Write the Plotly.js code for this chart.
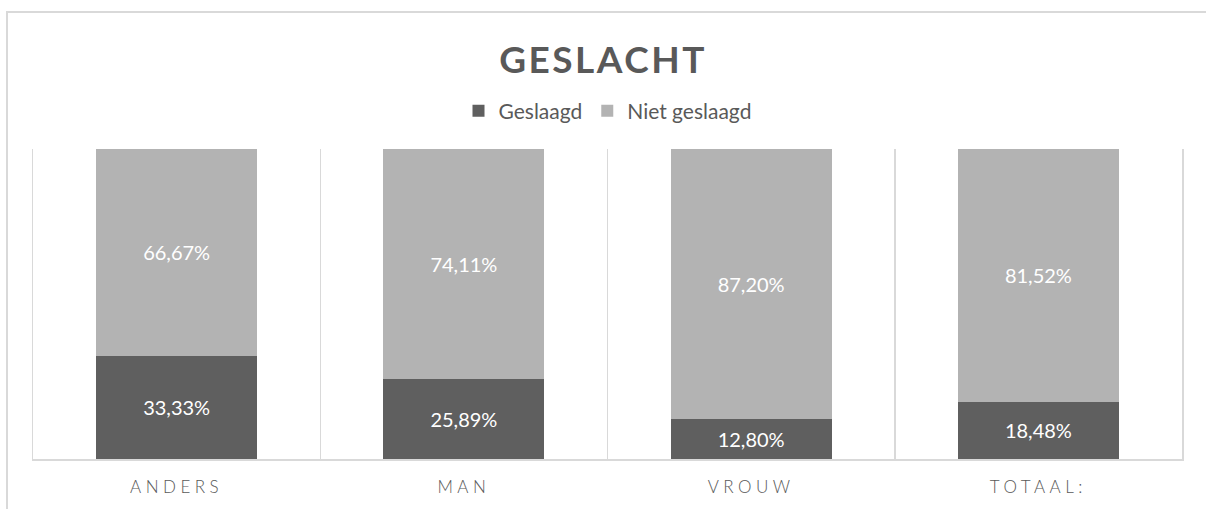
<!DOCTYPE html>
<html>
<head>
<meta charset="utf-8">
<script src="https://cdn.plot.ly/plotly-3.0.1.min.js"></script>
<style>
  html, body { margin: 0; padding: 0; background: #ffffff; }
  #wrap { position: relative; width: 1206px; height: 509px; overflow: hidden; }
  #chart { position: absolute; left: 0; top: 0; width: 1206px; height: 509px; }
  #frame { position: absolute; left: 6px; top: 11px; width: 1300px; height: 700px;
           border-left: 2px solid #d9d9d9; border-top: 2px solid #d9d9d9; pointer-events: none; }
  .gtitle { letter-spacing: 2.5px; }
  .xtick text { letter-spacing: 4.5px; }
</style>
</head>
<body>
<div id="wrap">
  <div id="chart"></div>
  <div id="frame"></div>
</div>
<script>
const categories = ["ANDERS", "MAN", "VROUW", "TOTAAL:"];
const geslaagd = [0.3333, 0.2589, 0.1280, 0.1848];
const nietGeslaagd = [0.6667, 0.7411, 0.8720, 0.8152];
const seriesNames = ["Geslaagd", "Niet geslaagd"];
const chartTitle = "GESLACHT";

const fontFam = "Lato, 'Open Sans', sans-serif";

const traces = [
  {
    type: "bar", name: seriesNames[0], x: categories, y: geslaagd,
    marker: { color: "#5f5f5f" },
    texttemplate: "%{y:.2%}", textposition: "inside", insidetextanchor: "middle",
    textfont: { family: fontFam, size: 20, color: "#ffffff" },
    hoverinfo: "skip"
  },
  {
    type: "bar", name: seriesNames[1], x: categories, y: nietGeslaagd,
    marker: { color: "#b3b3b3" },
    texttemplate: "%{y:.2%}", textposition: "inside", insidetextanchor: "middle",
    textfont: { family: fontFam, size: 20, color: "#ffffff" },
    hoverinfo: "skip"
  }
];

const layout = {
  width: 1206, height: 509,
  margin: { l: 33, r: 24, t: 149, b: 50 },
  paper_bgcolor: "rgba(0,0,0,0)", plot_bgcolor: "rgba(0,0,0,0)",
  separators: ",.",
  barmode: "stack",
  bargap: 0.44,
  showlegend: true,
  title: {
    text: "<b>" + chartTitle + "</b>",
    x: 0.5, xanchor: "center", y: 1 - 60 / 509, yanchor: "middle",
    font: { family: fontFam, size: 37, color: "#595959" }
  },
  legend: {
    orientation: "h", x: 0.5, xanchor: "center", y: 1 + 38 / 310, yanchor: "middle",
    traceorder: "normal",
    font: { family: fontFam, size: 21, color: "#595959" },
    itemclick: false, itemdoubleclick: false
  },
  xaxis: {
    type: "category",
    tickson: "boundaries",
    showgrid: true, gridcolor: "#d9d9d9", gridwidth: 1.5,
    showline: true, linecolor: "#d9d9d9", linewidth: 1.5,
    ticks: "", ticklabelstandoff: 12,
    tickfont: { family: fontFam, size: 17, weight: 300, color: "#595959" },
    fixedrange: true
  },
  yaxis: {
    range: [0, 1],
    showgrid: false, zeroline: false, showticklabels: false,
    showline: true, mirror: true, linecolor: "#d9d9d9", linewidth: 1.5,
    ticks: "", fixedrange: true
  }
};

Plotly.newPlot("chart", traces, layout, { staticPlot: true, displayModeBar: false });
</script>
</body>
</html>
